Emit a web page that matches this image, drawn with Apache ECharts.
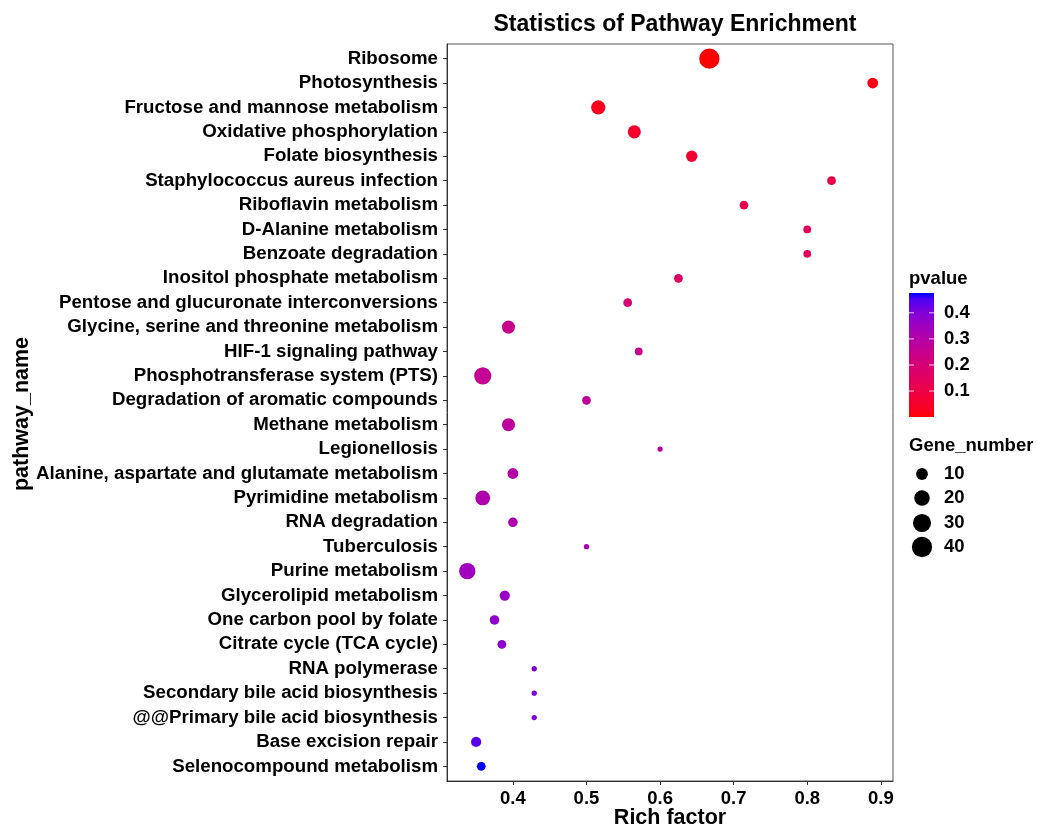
<!DOCTYPE html>
<html>
<head>
<meta charset="utf-8">
<script src="https://cdn.jsdelivr.net/npm/echarts@6/dist/echarts.min.js"></script>
<style>html,body{margin:0;padding:0;background:#fff;}#c{width:1037px;height:828px;}</style>
</head>
<body>
<div id="c"></div>
<script>
const categories = ["Ribosome","Photosynthesis","Fructose and mannose metabolism","Oxidative phosphorylation","Folate biosynthesis","Staphylococcus aureus infection","Riboflavin metabolism","D-Alanine metabolism","Benzoate degradation","Inositol phosphate metabolism","Pentose and glucuronate interconversions","Glycine, serine and threonine metabolism","HIF-1 signaling pathway","Phosphotransferase system (PTS)","Degradation of aromatic compounds","Methane metabolism","Legionellosis","Alanine, aspartate and glutamate metabolism","Pyrimidine metabolism","RNA degradation","Tuberculosis","Purine metabolism","Glycerolipid metabolism","One carbon pool by folate","Citrate cycle (TCA cycle)","RNA polymerase","Secondary bile acid biosynthesis","@@Primary bile acid biosynthesis","Base excision repair","Selenocompound metabolism"];
const richFactor = [0.667,0.889,0.516,0.565,0.643,0.833,0.714,0.8,0.8,0.625,0.556,0.394,0.571,0.359,0.5,0.394,0.6,0.4,0.359,0.4,0.5,0.338,0.389,0.375,0.385,0.429,0.429,0.429,0.35,0.357];
const geneNumber = [40,8,16,13,9,5,5,4,4,5,5,13,4,26,5,13,3,8,18,6,3,23,7,6,5,3,3,3,7,5];
const pvalue = [0.0005,0.02,0.035,0.05,0.065,0.1,0.12,0.14,0.14,0.16,0.19,0.24,0.25,0.26,0.27,0.28,0.29,0.3,0.31,0.315,0.32,0.345,0.36,0.375,0.38,0.4,0.4,0.4,0.44,0.476];
const xTicks = [0.4,0.5,0.6,0.7,0.8,0.9];
const pTicks = [0.1,0.2,0.3,0.4];
const sizeBreaks = [10,20,30,40];

const FONT = 'Liberation Sans';
// Lab interpolation red -> blue (ggplot-like gradient)
function lab2hex(L,a,b){
  let y=(L+16)/116, x=a/500+y, z=y-b/200;
  const f=t=>{const t3=t*t*t;return t3>0.008856?t3:(t-16/116)/7.787;};
  x=0.95047*f(x); y=f(y); z=1.08883*f(z);
  let r=x*3.2406+y*-1.5372+z*-0.4986, g=x*-0.9689+y*1.8758+z*0.0415, bb=x*0.0557+y*-0.2040+z*1.0570;
  const gm=v=>{v=v>0.0031308?1.055*Math.pow(v,1/2.4)-0.055:12.92*v;return Math.round(Math.max(0,Math.min(1,v))*255);};
  return '#'+[gm(r),gm(g),gm(bb)].map(v=>v.toString(16).padStart(2,'0')).join('');
}
const labLo=[53.24,80.09,67.20], labHi=[32.30,79.19,-107.86];
const gradColors=[];
for(let i=0;i<=20;i++){const t=i/20;gradColors.push(lab2hex(labLo[0]+(labHi[0]-labLo[0])*t,labLo[1]+(labHi[1]-labLo[1])*t,labLo[2]+(labHi[2]-labLo[2])*t));}

const pMin=Math.min(...pvalue), pMax=Math.max(...pvalue);
const nMin=Math.min(...geneNumber), nMax=Math.max(...geneNumber);
const sizeOf=n=>5.3+15*Math.sqrt(Math.max(0,(n-nMin)/(nMax-nMin)));

const xLo=Math.min(...richFactor), xHi=Math.max(...richFactor);
const xPad=(xHi-xLo)*0.05;

const data=categories.map((c,i)=>[richFactor[i],i,geneNumber[i],pvalue[i]]);

// legend geometry
const barX=909, barY=293, barW=25, barH=124;
const LF='bold 18.5px '+FONT;
const AF='bold 21.5px '+FONT;
const graphics=[];
// axis titles
graphics.push({type:'text',x:670,y:818,style:{text:'Rich factor',font:AF,fill:'#000',textAlign:'center',textVerticalAlign:'middle'}});
graphics.push({type:'text',x:22,y:414,rotation:Math.PI/2,style:{text:'pathway_name',font:AF,fill:'#000',textAlign:'center',textVerticalAlign:'middle'}});
graphics.push({type:'text',x:barX,y:279,style:{text:'pvalue',font:LF,fill:'#000',textVerticalAlign:'middle'}});
graphics.push({type:'rect',shape:{x:barX,y:barY,width:barW,height:barH},style:{fill:new echarts.graphic.LinearGradient(0,0,0,1,gradColors.slice().reverse().map((c,i,arr)=>({offset:i/(arr.length-1),color:c})))}});
pTicks.forEach(v=>{
  const y=barY+barH-(v-pMin)/(pMax-pMin)*barH;
  graphics.push({type:'line',shape:{x1:barX,y1:y,x2:barX+5,y2:y},style:{stroke:'rgba(255,255,255,0.8)',lineWidth:1}});
  graphics.push({type:'line',shape:{x1:barX+barW-5,y1:y,x2:barX+barW,y2:y},style:{stroke:'rgba(255,255,255,0.8)',lineWidth:1}});
  graphics.push({type:'text',x:944,y:y,style:{text:v.toFixed(1),font:LF,fill:'#000',textVerticalAlign:'middle'}});
});
graphics.push({type:'text',x:barX,y:446,style:{text:'Gene_number',font:LF,fill:'#000',textVerticalAlign:'middle'}});
const legY=[474,498,523,547];
sizeBreaks.forEach((n,i)=>{
  graphics.push({type:'circle',shape:{cx:922,cy:legY[i],r:sizeOf(n)/2},style:{fill:'#000'}});
  graphics.push({type:'text',x:944,y:legY[i],style:{text:String(n),font:LF,fill:'#000',textVerticalAlign:'middle'}});
});

const chart=echarts.init(document.getElementById('c'),null,{renderer:'canvas'});
chart.setOption({
  backgroundColor:'#fff',
  animation:false,
  title:{text:'Statistics of Pathway Enrichment',left:670,top:8,textAlign:'center',textStyle:{fontFamily:FONT,fontWeight:'bold',fontSize:23,color:'#000'}},
  grid:{left:447,top:44,right:144,bottom:47,show:true,borderColor:'#555',borderWidth:1,backgroundColor:'#fff',containLabel:false,outerBoundsMode:'none'},
  xAxis:{type:'value',min:xLo-xPad,max:xHi+xPad,
    axisLine:{show:true,onZero:false,lineStyle:{color:'#333'}},
    axisTick:{show:true,length:4,customValues:xTicks,lineStyle:{color:'#333'}},
    axisLabel:{customValues:xTicks,formatter:v=>v.toFixed(1),margin:8,fontFamily:FONT,fontWeight:'bold',fontSize:18.5,color:'#000'},
    splitLine:{show:false}},
  yAxis:{type:'value',inverse:true,min:-0.6,max:categories.length-1+0.6,
    axisLine:{show:true,onZero:false,lineStyle:{color:'#333'}},
    axisTick:{show:true,length:4,customValues:categories.map((c,i)=>i),lineStyle:{color:'#333'}},
    axisLabel:{customValues:categories.map((c,i)=>i),formatter:v=>categories[Math.round(v)],margin:9,fontFamily:FONT,fontWeight:'bold',fontSize:18.7,color:'#000'},
    splitLine:{show:false}},
  visualMap:{show:false,type:'continuous',dimension:3,min:pMin,max:pMax,seriesIndex:0,inRange:{color:gradColors}},
  series:[{type:'scatter',data:data,symbol:'circle',symbolSize:v=>sizeOf(v[2]),itemStyle:{opacity:1}}],
  graphic:graphics
});
</script>
</body>
</html>
